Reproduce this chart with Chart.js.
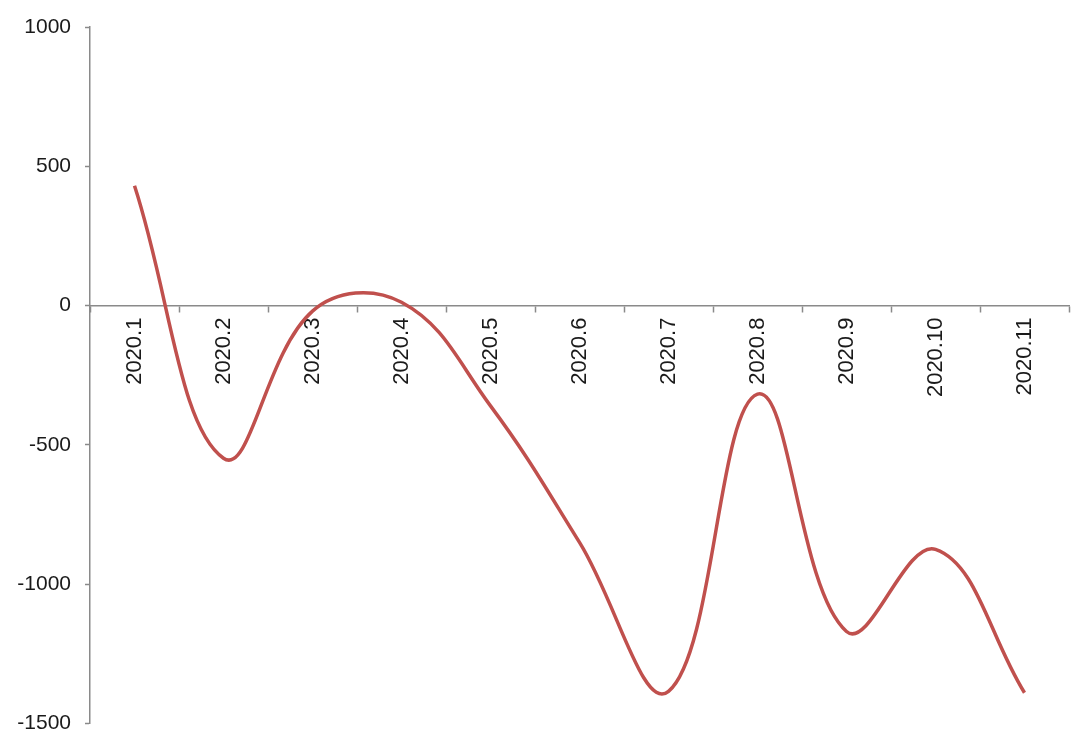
<!DOCTYPE html>
<html>
<head>
<meta charset="utf-8">
<script src="https://cdn.jsdelivr.net/npm/chart.js@4/dist/chart.umd.min.js"></script>
<style>
  html, body { margin: 0; padding: 0; background: #ffffff; }
  #wrap { width: 1080px; height: 750px; }
</style>
</head>
<body>
<div id="wrap"><canvas id="c" width="1080" height="750"></canvas></div>
<script>
const categories = ['2020.1','2020.2','2020.3','2020.4','2020.5','2020.6','2020.7','2020.8','2020.9','2020.10','2020.11'];
const values = [430, -548, -20, 12, -360, -850, -1385, -318, -1170, -875, -1390];
const yTicks = [1000, 500, 0, -500, -1000, -1500];

const axisColor = '#8a8a8a';
const textColor = '#1a1a1a';
const fontFamily = '"Liberation Sans", Arial, Helvetica, sans-serif';

new Chart(document.getElementById('c'), {
  type: 'line',
  data: {
    labels: categories,
    datasets: [{
      data: values,
      borderColor: '#C0504D',
      borderWidth: 3.5,
      pointRadius: 0,
      fill: false,
      tension: 0.4,
      cubicInterpolationMode: 'default'
    }]
  },
  options: {
    responsive: false,
    animation: false,
    devicePixelRatio: 1,
    layout: { padding: { top: 27, bottom: 25, left: 0, right: 11 } },
    plugins: { legend: { display: false }, tooltip: { enabled: false } },
    scales: {
      x: {
        type: 'category',
        position: { y: 0 },
        offset: true,
        grid: {
          offset: true,
          drawOnChartArea: false,
          drawTicks: true,
          tickLength: 6,
          tickWidth: 1.5,
          tickColor: axisColor
        },
        border: { display: true, color: axisColor, width: 1.5 },
        ticks: {
          autoSkip: false,
          minRotation: 90,
          maxRotation: 90,
          padding: 6,
          color: textColor,
          font: { family: fontFamily, size: 22 }
        }
      },
      y: {
        type: 'linear',
        position: 'left',
        min: -1500,
        max: 1000,
        afterBuildTicks: (scale) => { scale.ticks = yTicks.map(v => ({ value: v })); },
        afterFit: (scale) => { scale.width = 90; },
        grid: {
          drawOnChartArea: false,
          drawTicks: true,
          tickLength: 5,
          tickWidth: 1.5,
          tickColor: axisColor
        },
        border: { display: true, color: axisColor, width: 1.5 },
        ticks: {
          padding: 14,
          color: textColor,
          font: { family: fontFamily, size: 21 },
          callback: (v) => String(v)
        }
      }
    }
  }
});
</script>
</body>
</html>
